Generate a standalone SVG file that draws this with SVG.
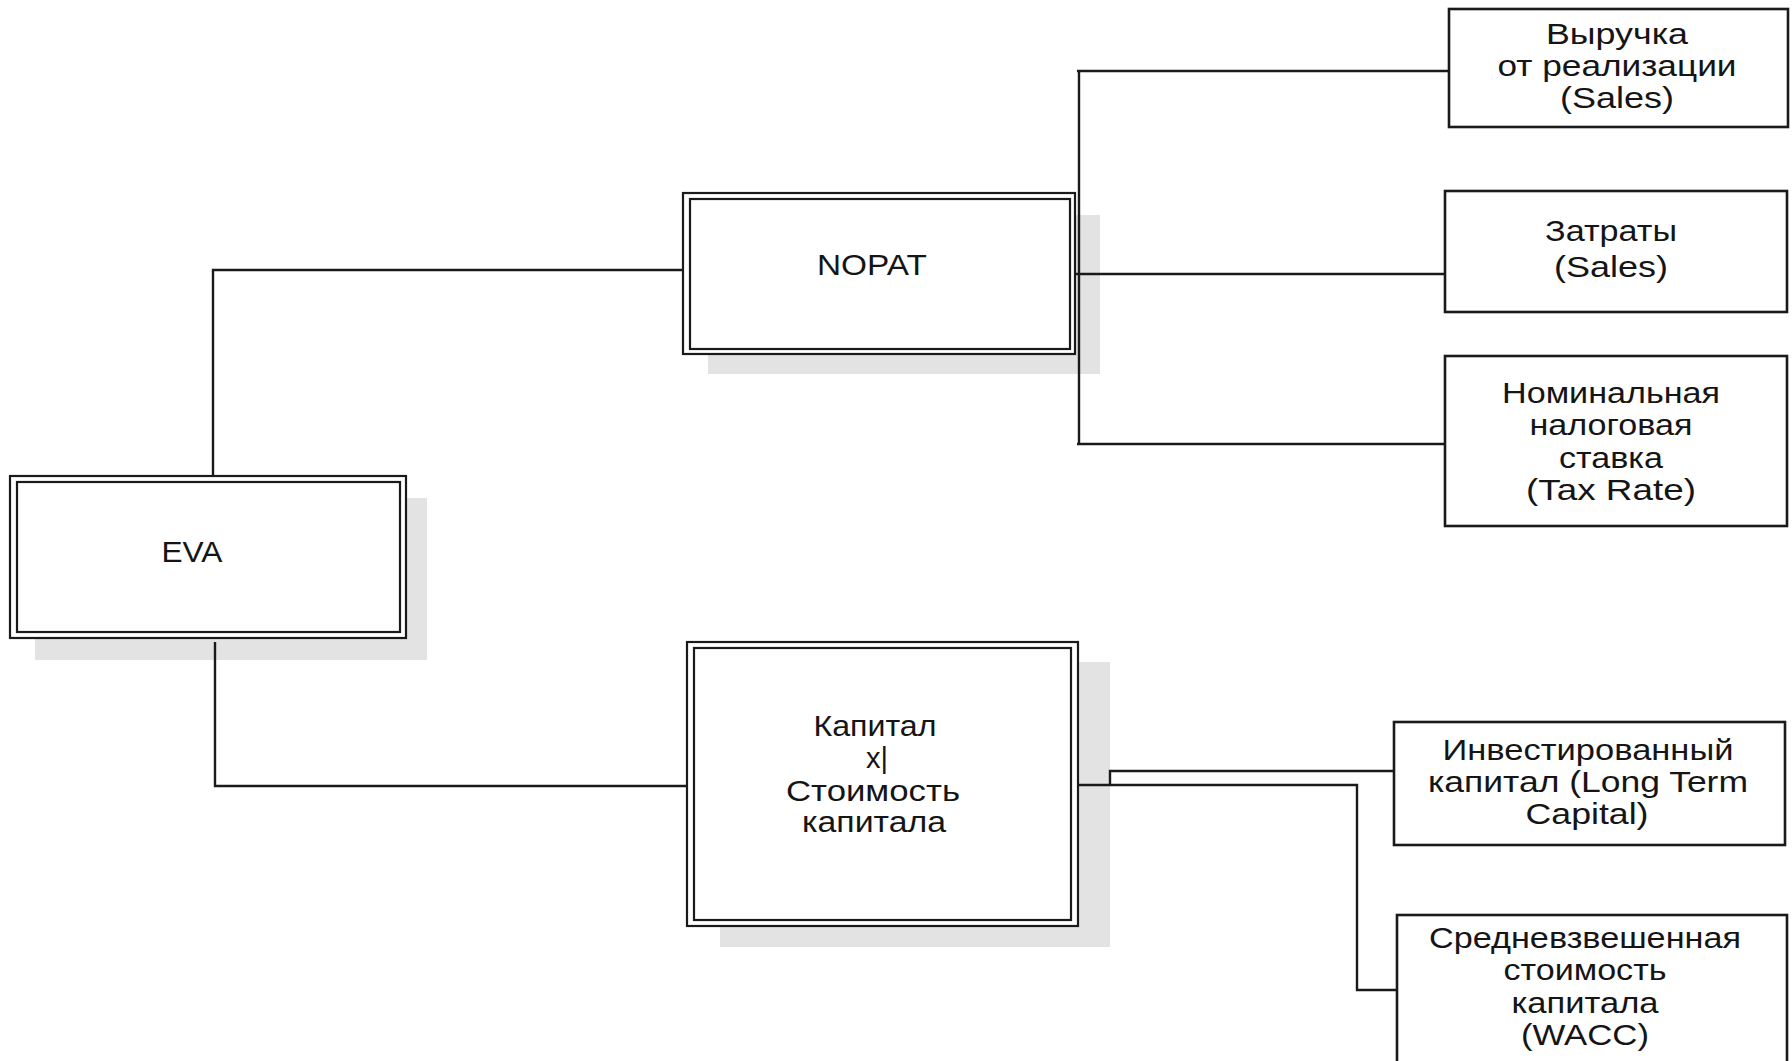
<svg xmlns="http://www.w3.org/2000/svg" width="1792" height="1061" viewBox="0 0 1792 1061">
<style>
.bg{fill:#ffffff}
.shadow{fill:#e3e3e3;stroke:none}
.outer{fill:#ffffff;stroke:#1a1a1a;stroke-width:2.2}
.inner{fill:none;stroke:#1a1a1a;stroke-width:2.2}
.box{fill:#ffffff;stroke:#1a1a1a;stroke-width:2.6}
.conn{fill:none;stroke:#1a1a1a;stroke-width:2.4}
text{font-family:"Liberation Sans",Arial,sans-serif;font-size:29px;fill:#151515;text-anchor:middle}
</style>
<rect class="bg" x="0" y="0" width="1792" height="1061"/>

<g id="shadows">
<rect class="shadow" x="35" y="498" width="392" height="162"/>
<rect class="shadow" x="708" y="215" width="392" height="159"/>
<rect class="shadow" x="720" y="662" width="390" height="285"/>
</g>

<g id="connectors">
<polyline class="conn" points="213,476 213,270 683,270"/>
<polyline class="conn" points="215,642 215,786 687,786"/>
<polyline class="conn" points="1077,71 1449,71"/>
<line class="conn" x1="1079" y1="71" x2="1079" y2="444"/>
<line class="conn" x1="1075" y1="274" x2="1445" y2="274"/>
<line class="conn" x1="1077" y1="444" x2="1445" y2="444"/>
<polyline class="conn" points="1078,785 1357,785 1357,990 1397,990"/>
<polyline class="conn" points="1110,785 1110,771 1394,771"/>
</g>

<g id="node-eva">
<rect class="outer" x="10" y="476" width="396" height="162"/>
<rect class="inner" x="17" y="482" width="383" height="150"/>
<text x="192" y="562" textLength="61" lengthAdjust="spacingAndGlyphs">EVA</text>
</g>

<g id="node-nopat">
<rect class="outer" x="683" y="193" width="392" height="161"/>
<rect class="inner" x="690" y="199" width="380" height="150"/>
<text x="872" y="275" textLength="110" lengthAdjust="spacingAndGlyphs">NOPAT</text>
</g>

<g id="node-capital">
<rect class="outer" x="687" y="642" width="391" height="284"/>
<rect class="inner" x="694" y="648" width="377" height="272"/>
<text x="875" y="736" textLength="123" lengthAdjust="spacingAndGlyphs">Капитал</text>
<text x="877" y="768">x|</text>
<text x="873" y="801" textLength="174" lengthAdjust="spacingAndGlyphs">Стоимость</text>
<text x="874" y="832" textLength="144" lengthAdjust="spacingAndGlyphs">капитала</text>
</g>

<g id="node-sales">
<rect class="box" x="1449" y="9" width="339" height="118"/>
<text x="1617" y="44" textLength="142" lengthAdjust="spacingAndGlyphs">Выручка</text>
<text x="1617" y="76" textLength="239" lengthAdjust="spacingAndGlyphs">от реализации</text>
<text x="1617" y="108" textLength="114" lengthAdjust="spacingAndGlyphs">(Sales)</text>
</g>

<g id="node-costs">
<rect class="box" x="1445" y="191" width="342" height="121"/>
<text x="1611" y="241" textLength="132" lengthAdjust="spacingAndGlyphs">Затраты</text>
<text x="1611" y="277" textLength="114" lengthAdjust="spacingAndGlyphs">(Sales)</text>
</g>

<g id="node-tax">
<rect class="box" x="1445" y="356" width="342" height="170"/>
<text x="1611" y="403" textLength="218" lengthAdjust="spacingAndGlyphs">Номинальная</text>
<text x="1611" y="435" textLength="163" lengthAdjust="spacingAndGlyphs">налоговая</text>
<text x="1611" y="468" textLength="104" lengthAdjust="spacingAndGlyphs">ставка</text>
<text x="1611" y="500" textLength="170" lengthAdjust="spacingAndGlyphs">(Tax Rate)</text>
</g>

<g id="node-ltc">
<rect class="box" x="1394" y="722" width="391" height="123"/>
<text x="1588" y="760" textLength="291" lengthAdjust="spacingAndGlyphs">Инвестированный</text>
<text x="1588" y="792" textLength="320" lengthAdjust="spacingAndGlyphs">капитал (Long Term</text>
<text x="1587" y="824" textLength="123" lengthAdjust="spacingAndGlyphs">Capital)</text>
</g>

<g id="node-wacc">
<rect class="box" x="1397" y="915" width="390" height="160"/>
<text x="1585" y="948" textLength="312" lengthAdjust="spacingAndGlyphs">Средневзвешенная</text>
<text x="1585" y="980" textLength="163" lengthAdjust="spacingAndGlyphs">стоимость</text>
<text x="1585" y="1013" textLength="147" lengthAdjust="spacingAndGlyphs">капитала</text>
<text x="1585" y="1045" textLength="128" lengthAdjust="spacingAndGlyphs">(WACC)</text>
</g>
</svg>
